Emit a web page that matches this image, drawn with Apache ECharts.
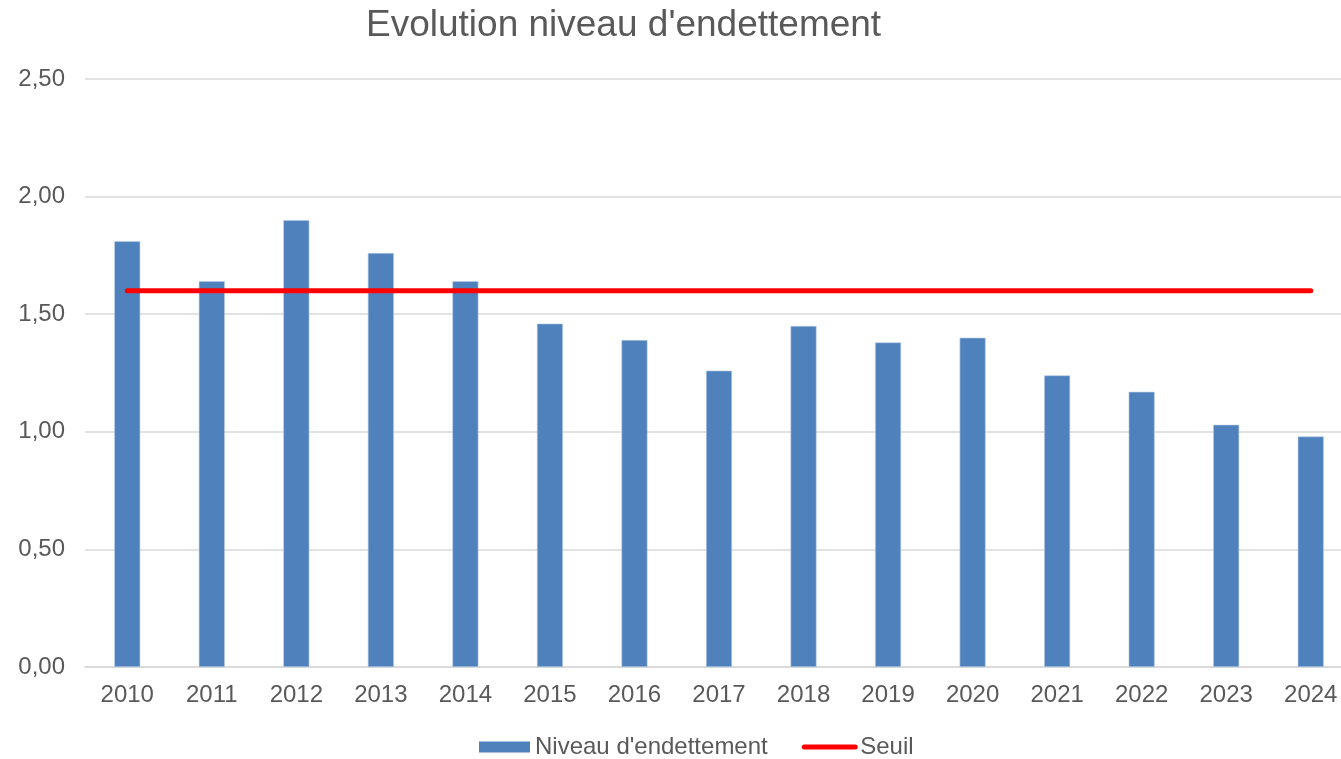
<!DOCTYPE html>
<html>
<head>
<meta charset="utf-8">
<script src="https://cdn.jsdelivr.net/npm/echarts@6/dist/echarts.min.js"></script>
<style>
  html, body { margin: 0; padding: 0; background: #fff; }
  #chart { width: 1341px; height: 759px; }
</style>
</head>
<body>
<div id="chart"></div>
<script>
  const years = ['2010', '2011', '2012', '2013', '2014', '2015', '2016', '2017', '2018', '2019', '2020', '2021', '2022', '2023', '2024'];
  const niveau = [1.81, 1.64, 1.90, 1.76, 1.64, 1.46, 1.39, 1.26, 1.45, 1.38, 1.40, 1.24, 1.17, 1.03, 0.98];
  const seuil = [1.6, 1.6, 1.6, 1.6, 1.6, 1.6, 1.6, 1.6, 1.6, 1.6, 1.6, 1.6, 1.6, 1.6, 1.6];
  const yTicks = [0, 0.5, 1, 1.5, 2, 2.5];

  const font = '"Liberation Sans", Arial, sans-serif';
  const grey = '#595959';

  const chart = echarts.init(document.getElementById('chart'));
  chart.setOption({
    animation: false,
    textStyle: { fontFamily: font },
    title: {
      text: "Evolution niveau d'endettement",
      left: 361,
      top: 2,
      textStyle: { fontFamily: font, fontSize: 37, fontWeight: 'normal', color: grey },
    },
    legend: {
      data: [
        { name: "Niveau d'endettement", icon: 'rect', itemStyle: { borderWidth: 0 } },
        { name: 'Seuil', itemStyle: { opacity: 0 }, lineStyle: { width: 5, cap: 'round' } },
      ],
      left: 479,
      top: 735,
      padding: 0,
      itemWidth: 51,
      itemHeight: 11,
      itemGap: 34,
      textStyle: { fontFamily: font, fontSize: 24, color: grey },
    },
    grid: {
      left: 85,
      top: 79,
      bottom: 92,
      width: 1268,
      containLabel: false,
      outerBoundsMode: 'none',
    },
    xAxis: {
      type: 'category',
      data: years,
      axisLine: { show: true, lineStyle: { color: '#d9d9d9', width: 1.5 } },
      axisTick: { show: false },
      axisLabel: { fontFamily: font, fontSize: 24, color: grey, margin: 16 },
    },
    yAxis: {
      type: 'value',
      min: yTicks[0],
      max: yTicks[yTicks.length - 1],
      interval: 0.5,
      axisLine: { show: false },
      axisTick: { show: false },
      splitLine: { lineStyle: { color: '#d9d9d9', width: 1.5 } },
      axisLabel: {
        fontFamily: font,
        fontSize: 24,
        color: grey,
        margin: 20,
        formatter: v => v.toFixed(2).replace('.', ','),
      },
    },
    series: [
      {
        name: "Niveau d'endettement",
        type: 'bar',
        data: niveau,
        barWidth: 26,
        itemStyle: { color: '#4f81bd', borderColor: '#b7cce6', borderWidth: 0.6 },
      },
      {
        name: 'Seuil',
        type: 'line',
        data: seuil,
        symbol: 'none',
        lineStyle: { color: '#ff0000', width: 5, cap: 'round' },
        itemStyle: { color: '#ff0000' },
      },
    ],
  });
</script>
</body>
</html>
